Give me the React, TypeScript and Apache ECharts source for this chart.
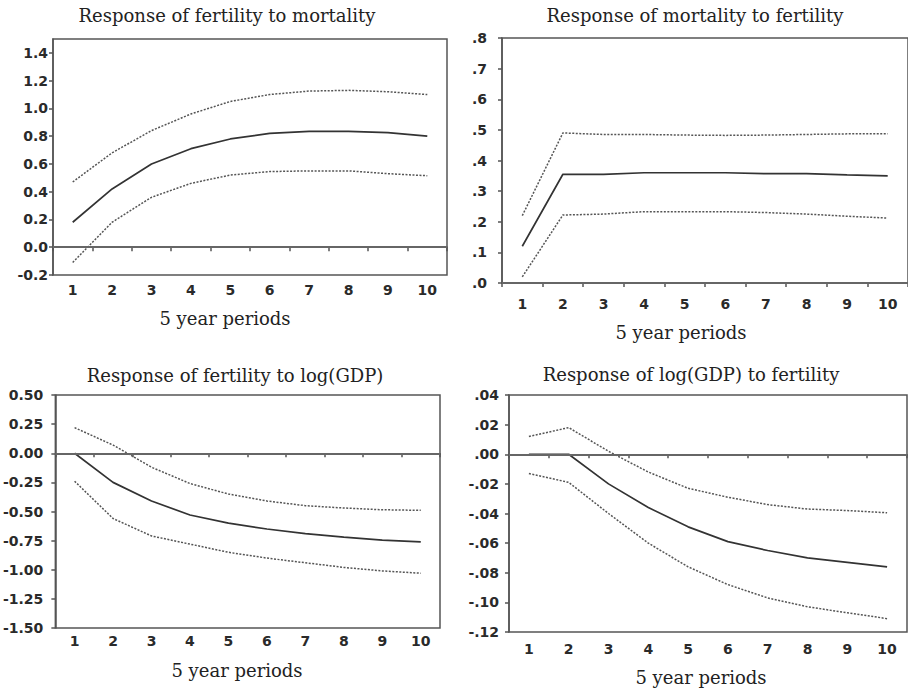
import React, { useEffect, useRef } from "react";
import * as echarts from "echarts";

const periods = ["1", "2", "3", "4", "5", "6", "7", "8", "9", "10"];

const titles = [
  "Response of fertility to mortality",
  "Response of mortality to fertility",
  "Response of fertility to log(GDP)",
  "Response of log(GDP) to fertility",
];
const xAxisTitle = "5 year periods";

// Panel 1: fertility to mortality
const p1Mid = [0.18, 0.42, 0.6, 0.71, 0.78, 0.82, 0.835, 0.835, 0.825, 0.8];
const p1Up = [0.47, 0.68, 0.84, 0.96, 1.05, 1.1, 1.125, 1.13, 1.12, 1.1];
const p1Lo = [-0.11, 0.18, 0.36, 0.46, 0.52, 0.545, 0.55, 0.55, 0.53, 0.515];

// Panel 2: mortality to fertility
const p2Mid = [0.12, 0.355, 0.355, 0.36, 0.36, 0.36, 0.357, 0.357, 0.353, 0.35];
const p2Up = [0.22, 0.49, 0.485, 0.485, 0.483, 0.482, 0.483, 0.485, 0.487, 0.487];
const p2Lo = [0.02, 0.222, 0.225, 0.233, 0.233, 0.233, 0.23, 0.225, 0.218, 0.212];

// Panel 3: fertility to log(GDP)
const p3Mid = [0.0, -0.25, -0.41, -0.53, -0.6, -0.65, -0.69, -0.72, -0.745, -0.76];
const p3Up = [0.22, 0.07, -0.12, -0.26, -0.35, -0.41, -0.45, -0.47, -0.485, -0.49];
const p3Lo = [-0.24, -0.56, -0.71, -0.78, -0.85, -0.9, -0.94, -0.98, -1.01, -1.03];

// Panel 4: log(GDP) to fertility
const p4Mid = [0.0, 0.0, -0.02, -0.036, -0.049, -0.059, -0.065, -0.07, -0.073, -0.076];
const p4Up = [0.012, 0.018, 0.002, -0.012, -0.023, -0.029, -0.034, -0.037, -0.038, -0.0395];
const p4Lo = [-0.013, -0.019, -0.04, -0.06, -0.076, -0.088, -0.097, -0.103, -0.107, -0.111];

const panels = [
  { mid: p1Mid, up: p1Up, lo: p1Lo, min: -0.2, max: 1.5, interval: 0.2, fmt: (v: number) => v.toFixed(1), hideMax: true },
  { mid: p2Mid, up: p2Up, lo: p2Lo, min: 0, max: 0.8, interval: 0.1, fmt: (v: number) => v.toFixed(1).replace(/^(-?)0\./, "$1."), hideMax: false },
  { mid: p3Mid, up: p3Up, lo: p3Lo, min: -1.5, max: 0.5, interval: 0.25, fmt: (v: number) => v.toFixed(2), hideMax: false },
  { mid: p4Mid, up: p4Up, lo: p4Lo, min: -0.12, max: 0.04, interval: 0.02, fmt: (v: number) => v.toFixed(2).replace(/^(-?)0\./, "$1."), hideMax: false },
];

const grids = [
  { left: 53, top: 39, width: 394, height: 236 },
  { left: 502, top: 38, width: 407, height: 245 },
  { left: 51, top: 395, width: 389, height: 233 },
  { left: 509, top: 395, width: 398, height: 237 },
];
const xLabelMargin = [8, 14, 6, 10];
const yLabelMargin = [5, 15, 12, 10];
const titlePos = [
  [227, 15],
  [695, 15],
  [235, 375],
  [691, 374],
];
const namePos = [
  [225, 318],
  [681, 332],
  [237, 670],
  [701, 677],
];

const AXIS_COLOR = "#555";
const LABEL_FONT = { fontFamily: "DejaVu Sans", fontWeight: "bold" as const, fontSize: 14, color: "#2a2a2a" };
const SERIF = "DejaVu Serif";

export default function App() {
  const ref = useRef<HTMLDivElement>(null);
  useEffect(() => {
    if (!ref.current) return;
    const chart = echarts.init(ref.current, undefined, { renderer: "svg" });
    const series: any[] = [];
    panels.forEach((p, i) => {
      series.push({
        type: "line",
        xAxisIndex: i,
        yAxisIndex: i,
        data: p.mid,
        symbol: "none",
        lineStyle: { color: "#333", width: 1.7 },
        markLine: {
          silent: true,
          symbol: "none",
          label: { show: false },
          lineStyle: { color: "#666", width: 2, type: "solid" },
          data: [{ yAxis: 0 }],
        },
        z: 3,
      });
      [p.up, p.lo].forEach((d) =>
        series.push({
          type: "line",
          xAxisIndex: i,
          yAxisIndex: i,
          data: d,
          symbol: "none",
          lineStyle: { color: "#555", width: 1.5, type: [2, 1.5] },
          z: 2,
        })
      );
    });
    const graphic: any[] = [];
    titles.forEach((t, i) => {
      graphic.push({
        type: "text",
        x: titlePos[i][0],
        y: titlePos[i][1],
        style: { text: t, font: `18px "${SERIF}"`, fill: "#222", textAlign: "center", textVerticalAlign: "middle" },
      });
      graphic.push({
        type: "text",
        x: namePos[i][0],
        y: namePos[i][1],
        style: { text: xAxisTitle, font: `18px "${SERIF}"`, fill: "#222", textAlign: "center", textVerticalAlign: "middle" },
      });
    });
    chart.setOption({
      animation: false,
      backgroundColor: "#fff",
      grid: grids.map((g) => ({ ...g, show: true, borderColor: AXIS_COLOR, borderWidth: 1.5, backgroundColor: "transparent" })),
      xAxis: grids.map((_, i) => ({
        type: "category",
        gridIndex: i,
        data: periods,
        boundaryGap: true,
        axisLine: { show: true, lineStyle: { color: AXIS_COLOR, width: 1.5 } },
        axisTick: { show: true, length: 4, lineStyle: { color: AXIS_COLOR, width: 1.5 } },
        axisLabel: { ...LABEL_FONT, margin: xLabelMargin[i] },
        splitLine: { show: false },
      })),
      yAxis: panels.map((p, i) => ({
        type: "value",
        gridIndex: i,
        min: p.min,
        max: p.max,
        interval: p.interval,
        axisLine: { show: true, lineStyle: { color: AXIS_COLOR, width: 1.5 } },
        axisTick: { show: true, length: 4, lineStyle: { color: AXIS_COLOR, width: 1.5 } },
        axisLabel: { ...LABEL_FONT, margin: yLabelMargin[i], formatter: p.fmt, showMaxLabel: !p.hideMax },
        splitLine: { show: false },
      })),
      series,
      graphic,
    });
    return () => chart.dispose();
  }, []);
  return <div ref={ref} style={{ position: "absolute", left: 0, top: 0, width: 908, height: 691 }} />;
}
